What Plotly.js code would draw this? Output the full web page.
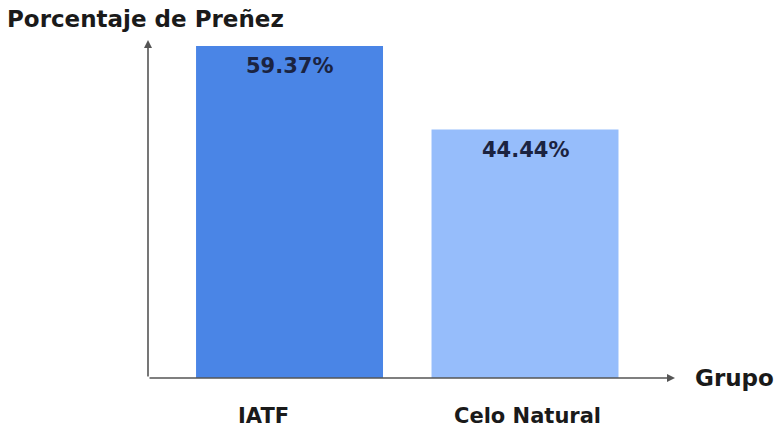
<!DOCTYPE html>
<html>
<head>
<meta charset="utf-8">
<script src="https://cdn.plot.ly/plotly-3.0.1.min.js"></script>
<style>
  html, body { margin: 0; padding: 0; background: #fff; }
  #chart { width: 777px; height: 430px; }
</style>
</head>
<body>
<div id="chart"></div>
<script>
// Pregnancy rate by group
const grupos = ["IATF", "Celo Natural"];
const prenez = [59.37, 44.44];
const colores = ["#4a85e6", "#96bdfb"];

const FONT = "DejaVu Sans, Arial, sans-serif";
const AXIS_COLOR = "#555555";
const TEXT_COLOR = "#1a1a1a";

// horizontal nudge of each group label under its bar (px)
const labelShift = [-26, 2];

const barTrace = {
  type: "bar",
  x: grupos,
  y: prenez,
  width: 0.794,
  marker: { color: colores, line: { width: 0 } },
  hoverinfo: "skip"
};

// Value labels placed just inside the top of each bar
const valueLabels = grupos.map((g, i) => ({
  x: g, y: prenez[i], xref: "x", yref: "y",
  text: prenez[i].toFixed(2) + "%",
  showarrow: false,
  yanchor: "middle",
  yshift: -20,
  font: { family: FONT, size: 21, color: "#1b2340", weight: 700 }
}));

// Group names below the horizontal axis
const groupLabels = grupos.map((g, i) => ({
  x: g, y: 0, xref: "x", yref: "paper",
  text: g,
  showarrow: false,
  yanchor: "middle",
  yshift: -38,
  xshift: labelShift[i],
  font: { family: FONT, size: 21, color: TEXT_COLOR, weight: 700 }
}));

// Axis lines drawn as arrows
const axisArrows = [
  {
    xref: "paper", yref: "paper", x: 0, y: 1,
    axref: "pixel", ayref: "pixel", ax: 0, ay: 338,
    showarrow: true, arrowhead: 2, arrowsize: 1, arrowwidth: 1.6,
    arrowcolor: AXIS_COLOR, text: ""
  },
  {
    xref: "paper", yref: "paper", x: 1, y: 0,
    axref: "pixel", ayref: "pixel", ax: -527, ay: 0,
    showarrow: true, arrowhead: 2, arrowsize: 1, arrowwidth: 1.6,
    arrowcolor: AXIS_COLOR, text: ""
  },
  {
    xref: "paper", yref: "paper", x: 1, y: 0,
    xanchor: "left", yanchor: "middle", xshift: 18,
    text: "Grupo", showarrow: false,
    font: { family: FONT, size: 23, color: TEXT_COLOR, weight: 700 }
  }
];

const layout = {
  width: 777,
  height: 430,
  margin: { l: 148, r: 102, t: 40, b: 52, pad: 0 },
  paper_bgcolor: "#ffffff",
  plot_bgcolor: "#ffffff",
  showlegend: false,
  title: {
    text: "Porcentaje de Preñez",
    xref: "container", x: 0.009, xanchor: "left",
    yref: "container", y: 0.956, yanchor: "middle",
    font: { family: FONT, size: 23, color: TEXT_COLOR, weight: 700 }
  },
  xaxis: {
    type: "category",
    range: [-0.601, 1.637],
    showline: false,
    showgrid: false,
    zeroline: false,
    showticklabels: false,
    ticks: "",
    fixedrange: true
  },
  yaxis: {
    range: [0, 60.46],
    showline: false,
    showgrid: false,
    zeroline: false,
    showticklabels: false,
    ticks: "",
    fixedrange: true
  },
  annotations: valueLabels.concat(groupLabels, axisArrows)
};

Plotly.newPlot("chart", [barTrace], layout, { displayModeBar: false, staticPlot: true });
</script>
</body>
</html>
